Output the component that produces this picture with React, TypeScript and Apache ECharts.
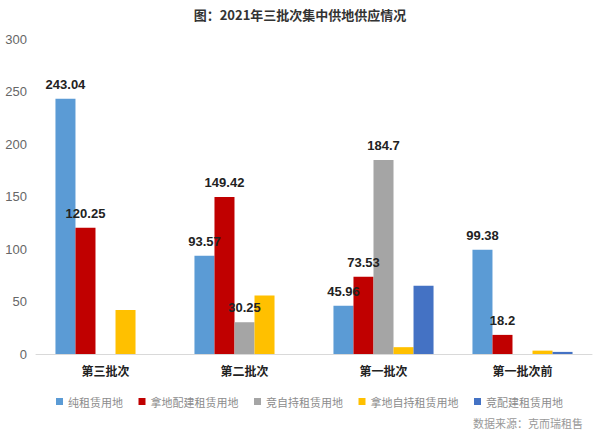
import React, { useEffect, useRef } from "react";
import * as echarts from "echarts";

const categories = ["第三批次", "第二批次", "第一批次", "第一批次前"];
const seriesNames = ["纯租赁用地", "拿地配建租赁用地", "竞自持租赁用地", "拿地自持租赁用地", "竞配建租赁用地"];
const pureRental = [243.04, 93.57, 45.96, 99.38];
const landSupporting = [120.25, 149.42, 73.53, 18.2];
const bidSelfHeld = [null, 30.25, 184.7, null];
const landSelfHeld = [42, 55.7, 6.5, 3.2];
const bidSupporting = [null, null, 65, 2];
const colors = ["#5B9BD5", "#C00000", "#A5A5A5", "#FFC000", "#4472C4"];
const showLabels = [true, true, true, false, false];
const yTicks = { min: 0, max: 300, interval: 50 };

export default function App() {
  const ref = useRef<HTMLDivElement>(null);
  useEffect(() => {
    const chart = echarts.init(ref.current!, null, { renderer: "svg" });
    const values = [pureRental, landSupporting, bidSelfHeld, landSelfHeld, bidSupporting];
    chart.setOption({
      animation: false,
      title: {
        text: "图：2021年三批次集中供地供应情况",
        left: "center",
        top: 3,
        textStyle: { fontSize: 13, fontWeight: "bold", color: "#333", fontFamily: "Noto Sans CJK SC" },
      },
      legend: {
        data: seriesNames,
        left: 51,
        top: 391,
        icon: "rect",
        itemWidth: 7,
        itemHeight: 7,
        itemGap: 15.5,
        textStyle: { fontSize: 11, color: "#8c8c8c", fontFamily: "Noto Sans CJK SC" },
      },
      graphic: [
        {
          type: "text",
          right: 17,
          top: 417,
          style: { text: "数据来源：克而瑞租售", fontSize: 11, fill: "#999", fontFamily: "Noto Sans CJK SC" },
        },
      ],
      grid: { left: 36, right: 8, top: 39, bottom: 82 },
      xAxis: {
        type: "category",
        data: categories,
        axisTick: { show: false },
        axisLine: { lineStyle: { color: "#d9d9d9" } },
        axisLabel: { fontSize: 12, fontWeight: "bold", color: "#222", margin: 10, fontFamily: "Noto Sans CJK SC" },
      },
      yAxis: {
        type: "value",
        min: yTicks.min,
        max: yTicks.max,
        interval: yTicks.interval,
        splitLine: { show: false },
        axisLine: { show: false },
        axisTick: { show: false },
        axisLabel: { fontSize: 13, color: "#666", margin: 9, fontFamily: "Liberation Sans" },
      },
      series: seriesNames.map((name, i) => ({
        name,
        type: "bar",
        data: values[i],
        barGap: "0%",
        barCategoryGap: "28%",
        itemStyle: { color: colors[i] },
        label: {
          show: showLabels[i],
          position: "top",
          distance: 8,
          fontSize: 13,
          fontWeight: "bold",
          color: "#222",
          fontFamily: "Liberation Sans",
        },
      })),
    });
    return () => chart.dispose();
  }, []);
  return <div ref={ref} style={{ position: "absolute", left: 0, top: 0, width: 600, height: 436 }} />;
}
